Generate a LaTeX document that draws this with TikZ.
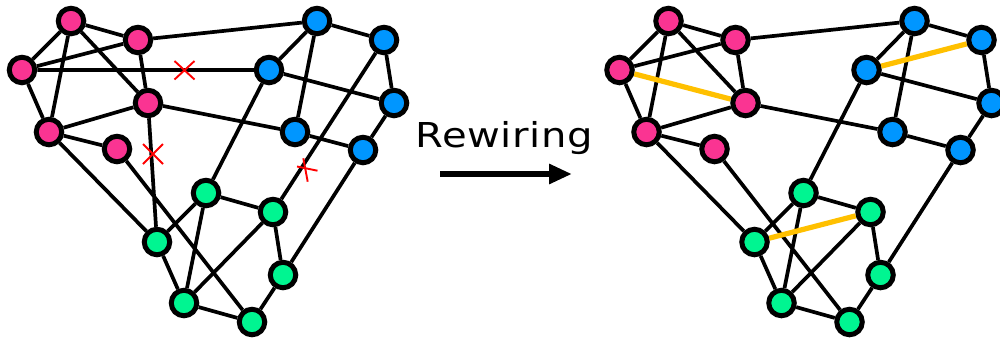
\documentclass[tikz,border=0pt]{standalone}
\usepackage{fontspec}
\setmainfont{DejaVu Sans}
\newfontfamily\rwfont[FakeStretch=1.17,LetterSpace=2]{DejaVu Sans}
\usetikzlibrary{arrows.meta}
\pgfdeclarelayer{edges}
\pgfsetlayers{edges,main}
\definecolor{pinkc}{RGB}{250,52,146}
\definecolor{bluec}{RGB}{0,150,255}
\definecolor{greenc}{RGB}{0,245,145}
\definecolor{orangec}{RGB}{255,192,0}
\tikzset{
  vtx/.style={circle,draw=black,line width=5pt,minimum size=25.5pt,inner sep=0pt},
  pk/.style={vtx,fill=pinkc},
  bl/.style={vtx,fill=bluec},
  gr/.style={vtx,fill=greenc},
  edge/.style={line width=3.7pt,black},
  newedge/.style={line width=5.2pt,orangec},
  redx/.style={line width=1.9pt,red},
  bigarrow/.style={line width=6pt,-{Triangle[length=23pt,width=19pt]}}
}
\begin{document}
\begin{tikzpicture}[x=1pt,y=-1pt]
\useasboundingbox (0,0) rectangle (1000,338);
% ---------- left graph ----------
\node[pk] (P1) at (71,21) {};
\node[pk] (P2) at (138,40) {};
\node[pk] (P3) at (22,70) {};
\node[pk] (P4) at (148,103) {};
\node[pk] (P5) at (49,132) {};
\node[pk] (P6) at (117,149) {};
\node[bl] (B1) at (317,21) {};
\node[bl] (B2) at (384,40) {};
\node[bl] (B3) at (269,70) {};
\node[bl] (B4) at (394,103) {};
\node[bl] (B5) at (295,132) {};
\node[bl] (B6) at (363,150) {};
\node[gr] (G1) at (206,193) {};
\node[gr] (G2) at (273,212) {};
\node[gr] (G3) at (157,242) {};
\node[gr] (G4) at (283,275) {};
\node[gr] (G5) at (184,303) {};
\node[gr] (G6) at (252,322) {};
\begin{pgfonlayer}{edges}
\draw[edge] (P1)--(P3) (P1)--(P2) (P1)--(P5) (P1)--(P4)
  (P2)--(P3) (P2)--(P4) (P2)--(B1) (P3)--(B3) (P3)--(P5)
  (P4)--(P5) (P4)--(B5) (P4)--(G3) (P5)--(P6) (P5)--(G3) (P6)--(G6)
  (B1)--(B3) (B1)--(B2) (B1)--(B5) (B2)--(B4) (B2)--(G2)
  (B3)--(B4) (B3)--(G1) (B4)--(B6) (B5)--(B6) (B6)--(G4)
  (G1)--(G2) (G1)--(G3) (G1)--(G5) (G2)--(G4) (G2)--(G5)
  (G3)--(G5) (G4)--(G6) (G5)--(G6);
\end{pgfonlayer}
% crosses
\draw[redx] (174.5,61) -- (194.5,79.5) (174.5,79.5) -- (194.5,61);
\draw[redx] (143,144) -- (163,164) (143,164) -- (163,144);
\draw[redx] (297,166.5) -- (317.5,170.7) (303.3,158.3) -- (307.7,181.7);
% ---------- right graph ----------
\begin{scope}[xshift=597.5pt]
\node[pk] (Q1) at (71,21) {};
\node[pk] (Q2) at (138,40) {};
\node[pk] (Q3) at (22,70) {};
\node[pk] (Q4) at (148,103) {};
\node[pk] (Q5) at (49,132) {};
\node[pk] (Q6) at (117,149) {};
\node[bl] (C1) at (317,21) {};
\node[bl] (C2) at (384,40) {};
\node[bl] (C3) at (269,70) {};
\node[bl] (C4) at (394,103) {};
\node[bl] (C5) at (295,132) {};
\node[bl] (C6) at (363,150) {};
\node[gr] (H1) at (206,193) {};
\node[gr] (H2) at (273,212) {};
\node[gr] (H3) at (157,242) {};
\node[gr] (H4) at (283,275) {};
\node[gr] (H5) at (184,303) {};
\node[gr] (H6) at (252,322) {};
\end{scope}
\begin{pgfonlayer}{edges}
\draw[edge] (Q1)--(Q3) (Q1)--(Q2) (Q1)--(Q5) (Q1)--(Q4)
  (Q2)--(Q3) (Q2)--(Q4) (Q2)--(C1) (Q3)--(Q5)
  (Q4)--(Q5) (Q4)--(C5) (Q5)--(Q6) (Q5)--(H3) (Q6)--(H6)
  (C1)--(C3) (C1)--(C2) (C1)--(C5) (C2)--(C4)
  (C3)--(C4) (C3)--(H1) (C4)--(C6) (C5)--(C6) (C6)--(H4)
  (H1)--(H2) (H1)--(H3) (H1)--(H5) (H2)--(H4) (H2)--(H5)
  (H3)--(H5) (H4)--(H6) (H5)--(H6);
\draw[newedge] (Q3)--(Q4) (C3)--(C2) (H3)--(H2);
\end{pgfonlayer}
% ---------- label and arrow ----------
\node[anchor=base west,inner sep=0pt] (lab) at (415,147.3) {\rwfont\fontsize{34.3pt}{40pt}\selectfont Rewiring};
\coordinate (a1) at (440,174);
\coordinate (a2) at (572,174);
\draw[bigarrow] (a1) -- (a2);
\end{tikzpicture}
\end{document}
